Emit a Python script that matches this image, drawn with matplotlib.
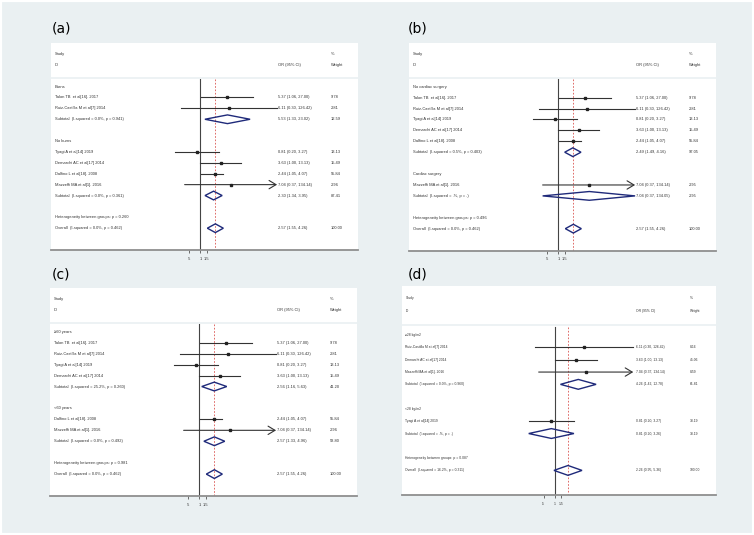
import matplotlib
matplotlib.use("Agg")
import matplotlib.pyplot as plt
from matplotlib.patches import Polygon, Rectangle
from matplotlib.ticker import NullLocator

plt.rcParams['font.family'] = ['Liberation Sans', 'DejaVu Sans']

BG = '#EAF0F2'
TXT = '#333333'
NAVY = '#1F2A7A'

# kinds: h = group header, s = study, d = pooled diamond, b = blank, t = text only
# (a) burns / no burns
a_rows = ["Burns", "Talon TB  et al[16]. 2017", "Ruiz-Castilla M et al[7] 2014",
          "Subtotal  (I-squared = 0.0%, p = 0.941)", "",
          "No burns", "Tyagi A et al[14] 2019", "Demarchi AC et al[17] 2014",
          "Dalfino L et al[18]. 2008", "Mazzeffi MA et al[1]. 2016",
          "Subtotal  (I-squared = 0.0%, p = 0.361)", "",
          "Heterogeneity between groups: p = 0.260", "Overall  (I-squared = 0.0%, p = 0.462)"]
a_kind = "hssdbhssssdbtd"
a_or = [5.37, 6.11, 5.53, 0.81, 3.63, 2.44, 7.04, 2.30, 2.57]
a_lo = [1.06, 0.30, 1.33, 0.20, 1.00, 1.05, 0.37, 1.34, 1.55]
a_hi = [27.00, 126.42, 23.02, 3.27, 13.13, 4.07, 134.14, 3.95, 4.26]
a_wt = [9.78, 2.81, 12.59, 13.13, 15.49, 55.84, 2.96, 87.41, 100.00]

# (b) cardiac surgery
b_rows = ["No cardiac surgery", "Talon TB  et al[16]. 2017", "Ruiz-Castilla M et al[7] 2014",
          "Tyagi A et al[14] 2019", "Demarchi AC et al[17] 2014", "Dalfino L et al[18]. 2008",
          "Subtotal  (I-squared = 0.5%, p = 0.403)", "",
          "Cardiac surgery", "Mazzeffi MA et al[1]. 2016", "Subtotal  (I-squared = .%, p = .)", "",
          "Heterogeneity between groups: p = 0.496", "Overall  (I-squared = 0.0%, p = 0.462)"]
b_kind = "hsssssdbhsdbtd"
b_or = [5.37, 6.11, 0.81, 3.63, 2.44, 2.49, 7.04, 7.04, 2.57]
b_lo = [1.06, 0.30, 0.20, 1.00, 1.05, 1.49, 0.37, 0.37, 1.55]
b_hi = [27.00, 126.42, 3.27, 13.13, 4.07, 4.16, 134.14, 134.05, 4.26]
b_wt = [9.78, 2.81, 13.13, 15.49, 55.84, 97.05, 2.95, 2.95, 100.00]

# (c) age
c_rows = ["\u226560 years", "Talon TB  et al[16]. 2017", "Ruiz-Castilla M et al[7] 2014",
          "Tyagi A et al[14] 2019", "Demarchi AC et al[17] 2014",
          "Subtotal  (I-squared = 25.2%, p = 0.260)", "",
          "<60 years", "Dalfino L et al[18]. 2008", "Mazzeffi MA et al[1]. 2016",
          "Subtotal  (I-squared = 0.0%, p = 0.492)", "",
          "Heterogeneity between groups: p = 0.981", "Overall  (I-squared = 0.0%, p = 0.462)"]
c_kind = "hssssdbhssdbtd"
c_or = [5.37, 6.11, 0.81, 3.63, 2.56, 2.44, 7.04, 2.57, 2.57]
c_lo = [1.06, 0.30, 0.20, 1.00, 1.16, 1.05, 0.37, 1.33, 1.55]
c_hi = [27.00, 126.42, 3.27, 13.13, 5.63, 4.07, 134.14, 4.96, 4.26]
c_wt = [9.78, 2.81, 13.13, 15.49, 41.20, 55.84, 2.96, 58.80, 100.00]

# (d) BMI
d_rows = ["\u226528 kg/m2", "Ruiz-Castilla M et al[7] 2014", "Demarchi AC et al[17] 2014",
          "Mazzeffi MA et al[1]. 2016", "Subtotal  (I-squared = 0.0%, p = 0.960)", "",
          "<28 kg/m2", "Tyagi A et al[14] 2019", "Subtotal  (I-squared = .%, p = .)", "",
          "Heterogeneity between groups: p = 0.087", "Overall  (I-squared = 16.2%, p = 0.311)"]
d_kind = "hsssdbhsdbtd"
d_or = [6.11, 3.63, 7.04, 4.26, 0.81, 0.81, 2.26]
d_lo = [0.30, 1.00, 0.37, 1.42, 0.20, 0.20, 0.95]
d_hi = [126.42, 13.13, 134.14, 12.78, 3.27, 3.26, 5.36]
d_wt = [8.16, 45.06, 8.59, 61.81, 38.19, 38.19, 100.00]

CLIP = 126.5


def forest(ax, rows, kind, ors, los, his, wts, fs, cols):
    xl, xo, xw = cols
    n = len(rows)
    bottom = n + 1
    ax.set_facecolor('white')
    ax.set_xscale('log', base=2)
    ax.set_xlim(2 ** -13.6, 2 ** 14.35)
    ax.set_ylim(bottom, -4)
    for s in ['top', 'left', 'right']:
        ax.spines[s].set_visible(False)
    ax.spines['bottom'].set_color('#8f8f8f')
    ax.spines['bottom'].set_linewidth(1.3)
    ax.set_yticks([])
    ax.set_xticks([0.5, 1, 1.5])
    ax.set_xticklabels(['.5', '1', '1.5'])
    ax.xaxis.set_minor_locator(NullLocator())
    ax.tick_params(axis='x', length=2.5, width=0.6, color='#555555',
                   labelsize=fs, labelcolor=TXT, pad=2.5)

    # header / body gap
    ax.axhline(-0.8, color=BG, lw=1.2)
    kw = dict(fontsize=fs, color=TXT, va='center')
    ax.text(xl, -3, "Study", **kw)
    ax.text(xl, -2, "ID", **kw)
    ax.text(xo, -2, "OR (95% CI)", **kw)
    ax.text(xw, -3, "%", **kw)
    ax.text(xw, -2, "Weight", **kw)

    overall = ors[-1]
    ax.plot([1, 1], [-0.7, bottom], color='#444444', lw=0.8, zorder=1)
    ax.plot([overall, overall], [-0.7, bottom], color='#D9534F', lw=0.6,
            ls=(0, (2, 2)), zorder=1)

    k = 0
    for i, (lab, kd) in enumerate(zip(rows, kind)):
        if lab:
            ax.text(xl, i, lab, **kw)
        if kd not in 'sd':
            continue
        o, lo, hi, w = ors[k], los[k], his[k], wts[k]
        k += 1
        ax.text(xo, i, f"{o:.2f} ({lo:.2f}, {hi:.2f})", **kw)
        ax.text(xw, i, f"{w:.2f}", **kw)
        top = min(hi, CLIP)
        if kd == 's':
            if hi > CLIP:
                ax.annotate('', xy=(top, i), xytext=(lo, i),
                            arrowprops=dict(arrowstyle='->,head_length=0.5,head_width=0.3',
                                            color='#333333', lw=0.8, shrinkA=0, shrinkB=0))
            else:
                ax.plot([lo, top], [i, i], color='#333333', lw=0.8, zorder=2)
            ax.plot([o], [i], marker='s', ms=1.6, color='#222222', zorder=3)
        else:
            h = 0.4
            ax.add_patch(Polygon([(lo, i), (o, i - h), (top, i), (o, i + h)],
                                 closed=True, fill=False, edgecolor=NAVY, lw=1.0, zorder=3))


fig = plt.figure(figsize=(7.54, 5.35), dpi=100, facecolor=BG)
W, H = 754, 535


def add_panel(left, right, top, bottom):
    return fig.add_axes([left / W, 1 - bottom / H, (right - left) / W, (bottom - top) / H])


cols_abc = (2 ** -13.25, 2 ** 7.1, 2 ** 11.9)
cols_d = (2 ** -13.3, 2 ** 7.2, 2 ** 12.05)

ax_a = add_panel(51, 358, 43, 250)
forest(ax_a, a_rows, a_kind, a_or, a_lo, a_hi, a_wt, 2.85, cols_abc)
ax_b = add_panel(409, 716, 43, 250.5)
forest(ax_b, b_rows, b_kind, b_or, b_lo, b_hi, b_wt, 2.85, cols_abc)
ax_c = add_panel(50, 357, 288, 496)
forest(ax_c, c_rows, c_kind, c_or, c_lo, c_hi, c_wt, 2.85, cols_abc)
ax_d = add_panel(402, 716, 286, 495)
forest(ax_d, d_rows, d_kind, d_or, d_lo, d_hi, d_wt, 2.4, cols_d)

for lab, x, y in [("(a)", 52, 29), ("(b)", 408, 28), ("(c)", 52, 275), ("(d)", 408, 275)]:
    fig.text(x / W, 1 - y / H, lab, fontsize=10, family='DejaVu Sans',
             color='black', ha='left', va='center')

fig.patches.append(Rectangle((0, 0), 1, 1, transform=fig.transFigure, fill=False,
                             edgecolor='white', linewidth=3))

fig.savefig('out.png', dpi=100, facecolor=fig.get_facecolor())
